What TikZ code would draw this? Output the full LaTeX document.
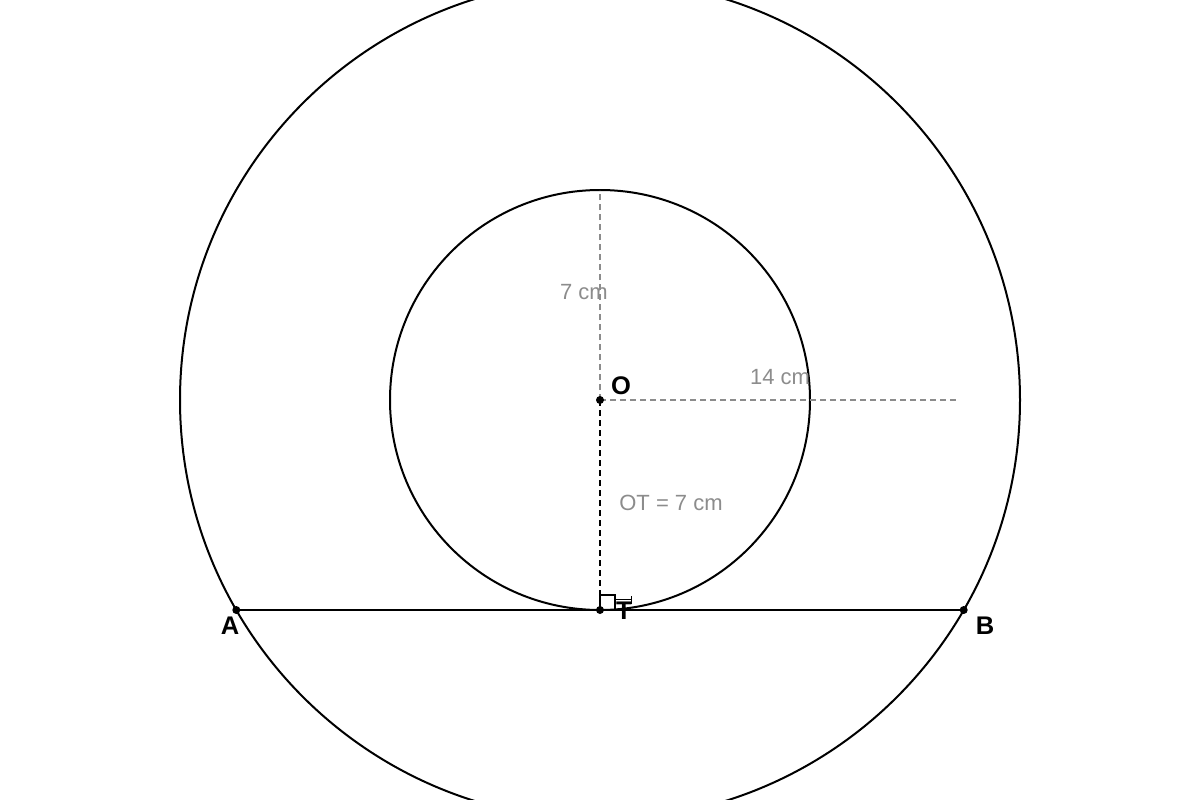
\documentclass[tikz,border=0pt]{standalone}
\usepackage{fontspec}
\setmainfont{Liberation Sans}
\begin{document}
\begin{tikzpicture}[x=1pt,y=-1pt,
  circ/.style={draw=black,line width=2pt},
  graydash/.style={draw=gray!90,line width=1.5pt,dash pattern=on 6pt off 4pt},
  blackdash/.style={draw=black,line width=2pt,dash pattern=on 6pt off 4pt},
  ptlab/.style={font=\fontsize{25.5}{30}\selectfont\bfseries,text=black,inner sep=0pt},
  meas/.style={font=\fontsize{22}{26}\selectfont,text=gray!90,inner sep=0pt},
  dot/.style={circle,fill=black,inner sep=0pt,minimum size=8pt}]
\useasboundingbox (0,0) rectangle (1200,800);
\clip (0,0) rectangle (1200,800);
\fill[white] (0,0) rectangle (1200,800);
\coordinate (O) at (600,400);
\coordinate (T) at (600,610);
\coordinate (A) at (236.3,610);
\coordinate (B) at (963.7,610);
\coordinate (Top) at (600,190);
\coordinate (R) at (956,400);
\draw[circ] (O) circle (420pt);
\draw[circ] (O) circle (210pt);
\draw[graydash] (O) -- (Top);
\draw[graydash] (O) -- (R);
\draw[blackdash] (O) -- (T);
\draw[line width=2pt] (A) -- (B);
\draw[line width=1.5pt] (600,595) rectangle (615,610);
\draw[line width=1pt] (615,599) -- (632,599) (631,596) -- (631,604);
\node[dot] (Od) at (O) {};
\node[dot] (Td) at (T) {};
\node[dot] (Ad) at (A) {};
\node[dot] (Bd) at (B) {};
\node[ptlab] (lO) at (621,386) {O};
\node[ptlab] (lT) at (624,611) {T};
\node[ptlab] (lA) at (230,626) {A};
\node[ptlab] (lB) at (985,626) {B};
\node[meas] (m7) at (584,292.5) {7 cm};
\node[meas] (m14) at (780,377.5) {14 cm};
\node[meas] (mOT) at (671,502.5) {OT = 7 cm};
\end{tikzpicture}
\end{document}
